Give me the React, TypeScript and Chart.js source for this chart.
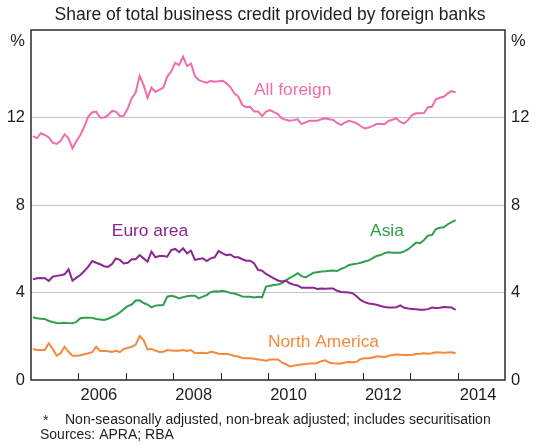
import React, { useEffect, useRef } from 'react';
import { Chart, registerables } from 'chart.js';

Chart.register(...registerables);

// ---- Data (monthly, percent of total business credit) ----
const FIRST_MONTH = '2005-01';

const ALL_FOREIGN = [
  11.15, 11.05, 11.28, 11.2, 11.09, 10.85, 10.79, 10.93, 11.23, 11.05, 10.59, 10.93,
  11.2, 11.58, 12.04, 12.24, 12.27, 11.99, 12.0, 12.11, 12.3, 12.27, 12.07, 12.08,
  12.42, 12.88, 13.14, 13.9, 13.49, 12.9, 13.37, 13.18, 13.26, 13.37, 13.87, 14.1,
  14.5, 14.4, 14.78, 14.35, 14.47, 13.9, 13.71, 13.64, 13.59, 13.68, 13.64, 13.66,
  13.68, 13.56, 13.38, 13.1, 12.95, 12.57, 12.47, 12.49, 12.27, 12.27, 12.07, 12.27,
  12.34, 12.25, 12.16, 11.96, 11.9, 11.85, 11.88, 11.92, 11.7, 11.78, 11.85, 11.85,
  11.85, 11.92, 11.96, 11.92, 11.89, 11.75, 11.66, 11.78, 11.85, 11.8, 11.73, 11.6,
  11.5, 11.54, 11.62, 11.7, 11.7, 11.69, 11.85, 11.9, 11.96, 11.8, 11.73, 11.89,
  12.11, 12.19, 12.19, 12.2, 12.47, 12.49, 12.83, 12.9, 12.95, 13.1, 13.21, 13.15,
];

const EURO_AREA = [
  4.6, 4.65, 4.66, 4.65, 4.53, 4.72, 4.76, 4.79, 4.83, 5.06, 4.54, 4.68,
  4.8, 4.98, 5.18, 5.44, 5.36, 5.29, 5.2, 5.17, 5.3, 5.56, 5.49, 5.33,
  5.36, 5.52, 5.52, 5.71, 5.56, 5.41, 5.87, 5.61, 5.67, 5.67, 5.64, 5.94,
  5.99, 5.84, 6.02, 5.79, 5.91, 5.49, 5.53, 5.56, 5.44, 5.56, 5.61, 5.9,
  5.79, 5.71, 5.74, 5.61, 5.61, 5.52, 5.45, 5.45, 5.33, 5.03, 5.0, 4.85,
  4.75, 4.65, 4.55, 4.5, 4.54, 4.42, 4.36, 4.32, 4.22, 4.22, 4.22, 4.22,
  4.16, 4.18, 4.17, 4.18, 4.18, 4.08, 4.02, 4.01, 4.0, 3.96, 3.82, 3.65,
  3.56, 3.5, 3.47, 3.44, 3.38, 3.34, 3.32, 3.32, 3.33, 3.41, 3.3, 3.27,
  3.25, 3.23, 3.21, 3.21, 3.24, 3.31, 3.29, 3.3, 3.34, 3.33, 3.31, 3.2,
];

const ASIA = [
  2.87, 2.82, 2.8, 2.79, 2.7, 2.65, 2.61, 2.59, 2.62, 2.6, 2.59, 2.66,
  2.82, 2.85, 2.85, 2.84, 2.79, 2.77, 2.74, 2.8, 2.88, 2.96, 3.09, 3.24,
  3.38, 3.45, 3.63, 3.64, 3.52, 3.45, 3.32, 3.4, 3.42, 3.43, 3.81, 3.85,
  3.81, 3.73, 3.79, 3.83, 3.85, 3.85, 3.73, 3.81, 3.88, 4.02, 4.06, 4.05,
  4.08, 4.04, 3.98, 3.95, 3.89, 3.82, 3.81, 3.81, 3.77, 3.81, 3.78, 4.27,
  4.31, 4.34, 4.37, 4.42, 4.55, 4.67, 4.76, 4.88, 4.75, 4.69, 4.79, 4.9,
  4.93, 4.96, 4.97, 4.99, 5.01, 4.98, 5.08, 5.15, 5.26, 5.29, 5.32, 5.36,
  5.42, 5.47, 5.57, 5.67, 5.71, 5.8, 5.84, 5.82, 5.82, 5.82, 5.88, 5.98,
  6.13, 6.28, 6.25, 6.4, 6.6, 6.63, 6.9, 6.96, 6.98, 7.12, 7.22, 7.31,
];

const NORTH_AMERICA = [
  1.42, 1.37, 1.37, 1.37, 1.68, 1.42, 1.11, 1.22, 1.52, 1.29, 1.11, 1.11,
  1.13, 1.18, 1.22, 1.27, 1.52, 1.33, 1.33, 1.31, 1.28, 1.34, 1.27, 1.42,
  1.47, 1.52, 1.62, 2.01, 1.83, 1.4, 1.42, 1.34, 1.28, 1.29, 1.37, 1.35,
  1.34, 1.34, 1.37, 1.33, 1.37, 1.22, 1.23, 1.24, 1.22, 1.29, 1.26, 1.2,
  1.19, 1.19, 1.16, 1.1, 1.07, 1.0, 0.99, 0.99, 0.97, 0.94, 0.91, 0.88,
  0.94, 0.94, 0.94, 0.8, 0.72, 0.62, 0.65, 0.69, 0.71, 0.73, 0.76, 0.76,
  0.78, 0.86, 0.9, 0.8, 0.77, 0.76, 0.76, 0.8, 0.82, 0.81, 0.84, 0.96,
  0.99, 0.99, 1.03, 1.07, 1.07, 1.04, 1.11, 1.14, 1.17, 1.15, 1.14, 1.14,
  1.15, 1.19, 1.2, 1.22, 1.2, 1.22, 1.27, 1.26, 1.25, 1.26, 1.27, 1.22,
];

const SERIES_NAMES = ['All foreign', 'Euro area', 'Asia', 'North America'];
const SERIES_COLORS = ['#F06CAA', '#8B2790', '#2E9F4C', '#F7883A'];
// label anchors in data units: [year, percent]
const LABEL_ANCHORS: [number, number][] = [
  [2010.52, 13.26],
  [2007.51, 6.81],
  [2012.51, 6.81],
  [2011.17, 1.74],
];

const X_MIN = 2005;
const X_MAX = 2015;
const X_LABEL_YEARS = [2006, 2008, 2010, 2012, 2014];
const Y_MIN = 0;
const Y_MAX = 16;
const Y_STEP = 4;
const Y_LABELED = [0, 4, 8, 12];
const UNIT = '%';

const TITLE = 'Share of total business credit provided by foreign banks';
const FOOTNOTE_MARK = '*';
const FOOTNOTE = 'Non-seasonally adjusted, non-break adjusted; includes securitisation';
const SOURCES = 'Sources: APRA; RBA';

const FONT = 'Arial, "Liberation Sans", Helvetica, sans-serif';
const TEXT = '#1e1e1e';

function monthToYear(first: string, i: number): number {
  const [y, m] = first.split('-').map(Number);
  return y + (m - 1 + i + 0.5) / 12;
}

function toPoints(values: number[]) {
  return values.map((v, i) => ({ x: monthToYear(FIRST_MONTH, i), y: v }));
}

const decorPlugin = {
  id: 'decor',
  afterDraw(chart: any) {
    const { ctx, chartArea, scales } = chart;
    const { left, right, top, bottom } = chartArea;
    const x = scales.x;
    const y = scales.y;
    ctx.save();
    // year tick marks (inside, pointing up)
    ctx.strokeStyle = '#222';
    ctx.lineWidth = 1;
    x.ticks.forEach((t: any) => {
      if (t.value > x.min && t.value < x.max) {
        const px = Math.round(x.getPixelForValue(t.value)) + 0.5;
        ctx.beginPath();
        ctx.moveTo(px, bottom);
        ctx.lineTo(px, bottom - 7);
        ctx.stroke();
      }
    });
    // frame
    ctx.lineWidth = 1.5;
    ctx.strokeStyle = '#2a2a2a';
    ctx.strokeRect(left, top, right - left, bottom - top);

    // unit labels
    ctx.fillStyle = TEXT;
    ctx.font = `16.5px ${FONT}`;
    ctx.textBaseline = 'middle';
    const uy = y.getPixelForValue(Y_MAX) + 11;
    ctx.textAlign = 'right';
    ctx.fillText(UNIT, left - 6, uy);
    ctx.textAlign = 'left';
    ctx.fillText(UNIT, right + 6, uy);

    // series labels
    ctx.font = `17.4px ${FONT}`;
    ctx.textAlign = 'center';
    SERIES_NAMES.forEach((name, i) => {
      ctx.fillStyle = SERIES_COLORS[i];
      const [ax, ay] = LABEL_ANCHORS[i];
      ctx.fillText(name, x.getPixelForValue(ax), y.getPixelForValue(ay));
    });

    // footnotes
    ctx.fillStyle = TEXT;
    ctx.font = `14px ${FONT}`;
    ctx.textAlign = 'left';
    ctx.textBaseline = 'alphabetic';
    ctx.fillText(FOOTNOTE_MARK, 43, 425);
    ctx.fillText(FOOTNOTE, 65, 424);
    ctx.fillText(SOURCES, 40, 439);
    ctx.restore();
  },
};

export default function App() {
  const ref = useRef<HTMLCanvasElement | null>(null);

  useEffect(() => {
    if (!ref.current) return;
    const series = [ALL_FOREIGN, EURO_AREA, ASIA, NORTH_AMERICA];
    const chart = new Chart(ref.current, {
      type: 'line',
      data: {
        datasets: series.map((vals, i) => ({
          label: SERIES_NAMES[i],
          data: toPoints(vals),
          borderColor: SERIES_COLORS[i],
          backgroundColor: SERIES_COLORS[i],
          borderWidth: 2,
          pointRadius: 0,
          tension: 0,
          yAxisID: 'y',
        })),
      },
      options: {
        responsive: false,
        animation: false,
        layout: { padding: { top: 0, left: 0, right: 0, bottom: 35 } },
        plugins: {
          legend: { display: false },
          tooltip: { enabled: false },
          title: {
            display: true,
            text: TITLE,
            color: TEXT,
            font: { family: FONT, size: 17.5, weight: 'normal', lineHeight: 1.2 },
            padding: { top: 5, bottom: 4 },
          },
        },
        scales: {
          x: {
            type: 'linear',
            min: X_MIN,
            max: X_MAX,
            grid: { display: false, drawTicks: false },
            border: { display: false },
            ticks: {
              stepSize: 1,
              autoSkip: false,
              maxRotation: 0,
              padding: 6,
              labelOffset: 20.5,
              color: TEXT,
              font: { family: FONT, size: 16.5 },
              callback: (v: any) => (X_LABEL_YEARS.includes(Number(v)) ? String(v) : ''),
            },
            afterFit: (s: any) => {
              s.height = 30;
            },
          },
          y: {
            position: 'left',
            min: Y_MIN,
            max: Y_MAX,
            grid: {
              drawTicks: false,
              color: (c: any) =>
                c.tick && (c.tick.value === Y_MIN || c.tick.value === Y_MAX) ? 'rgba(0,0,0,0)' : '#c4c4c4',
              lineWidth: 1,
            },
            border: { display: false },
            ticks: {
              stepSize: Y_STEP,
              padding: 6,
              color: TEXT,
              font: { family: FONT, size: 16.5 },
              callback: (v: any) => (Y_LABELED.includes(Number(v)) ? String(v) : ''),
            },
            afterFit: (s: any) => {
              s.width = 31;
            },
          },
          y2: {
            position: 'right',
            min: Y_MIN,
            max: Y_MAX,
            grid: { display: false, drawTicks: false },
            border: { display: false },
            ticks: {
              stepSize: Y_STEP,
              padding: 6,
              color: TEXT,
              font: { family: FONT, size: 16.5 },
              callback: (v: any) => (Y_LABELED.includes(Number(v)) ? String(v) : ''),
            },
            afterFit: (s: any) => {
              s.width = 35;
            },
          },
        },
      },
      plugins: [decorPlugin],
    });
    return () => chart.destroy();
  }, []);

  return (
    <div style={{ position: 'fixed', left: 0, top: 0, width: 540, height: 445, background: '#fff' }}>
      <canvas ref={ref} width={540} height={445} style={{ display: 'block' }} />
    </div>
  );
}
